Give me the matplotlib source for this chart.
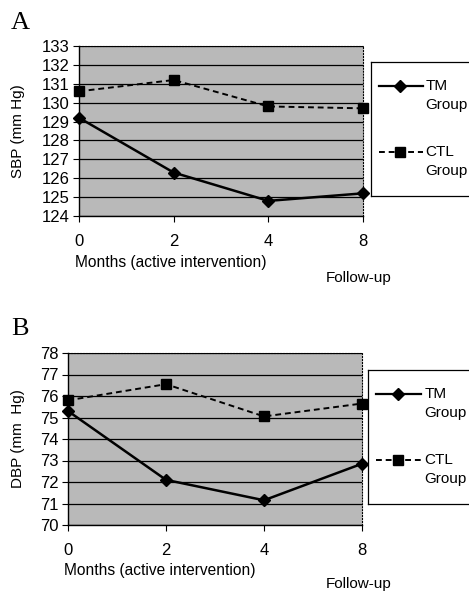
import matplotlib.pyplot as plt

plt.rcParams['font.family'] = ['Liberation Sans', 'DejaVu Sans']

months = ['0', '2', '4', '8']
sbp_tm = [129.2, 126.3, 124.8, 125.2]
sbp_ctl = [130.6, 131.2, 129.8, 129.7]
dbp_tm = [75.3, 72.1, 71.15, 72.85]
dbp_ctl = [75.8, 76.55, 75.05, 75.65]

W, H = 469, 592
fig = plt.figure(figsize=(W / 100, H / 100), dpi=100)
bg = '#b9b9b9'


def fx(px):
    return px / W


def fy(py):
    return 1 - py / H


def panel(letter, box, ylo, yhi, tm, ctl, ylabel, leg, ly, months_y, follow_y):
    l, t, r, b = box
    ax = fig.add_axes([fx(l), fy(b), fx(r) - fx(l), fy(t) - fy(b)])
    ax.set_facecolor(bg)
    x = range(len(months))
    for v in range(ylo, yhi + 1):
        ax.axhline(v, color='black', lw=0.9, zorder=1)
    ax.plot(x, ctl, ls=(0, (3, 2)), color='black', lw=1.4, marker='s', ms=6.5, zorder=3, clip_on=False)
    ax.plot(x, tm, ls='-', color='black', lw=1.8, marker='D', ms=6, zorder=3, clip_on=False)
    ax.set_xlim(0, 3)
    ax.set_ylim(ylo, yhi)
    ax.set_yticks(range(ylo, yhi + 1))
    ax.set_xticks(list(x))
    ax.set_xticklabels(months)
    ax.tick_params(axis='both', labelsize=12, length=4, width=0.8, color='black')
    ax.tick_params(axis='x', pad=9)
    ax.tick_params(axis='y', pad=3)
    for s in ['top', 'right']:
        ax.spines[s].set_linestyle(':')
        ax.spines[s].set_linewidth(0.8)
    ax.spines['left'].set_linewidth(1.0)
    ax.spines['bottom'].set_linewidth(1.0)

    fig.text(fx(18), fy((t + b) / 2), ylabel, fontsize=11, rotation=90, va='center', ha='center')
    fig.text(fx(11), fy(ly), letter, family='Liberation Serif', fontsize=19, va='center', ha='left')
    fig.text(fx(l - 4), fy(months_y), 'Months (active intervention)', fontsize=11.2, va='center', ha='left')
    fig.text(fx(326), fy(follow_y), 'Follow-up', fontsize=11, va='center', ha='left')

    # legend box
    gl, gt, gb = leg
    lax = fig.add_axes([fx(gl), fy(gb), fx(W + 5) - fx(gl), fy(gt) - fy(gb)])
    lax.set_xlim(0, 1)
    lax.set_ylim(0, 1)
    lax.set_xticks([])
    lax.set_yticks([])
    for s in lax.spines.values():
        s.set_linewidth(0.9)
    lax.plot([0.08, 0.5], [0.82, 0.82], color='black', lw=1.6)
    lax.plot([0.28], [0.82], marker='D', ms=6, color='black')
    lax.plot([0.08, 0.5], [0.33, 0.33], color='black', lw=1.4, ls=(0, (3, 2)))
    lax.plot([0.28], [0.33], marker='s', ms=6.5, color='black')
    lax.text(0.53, 0.82, 'TM', fontsize=11, va='center', ha='left')
    lax.text(0.53, 0.68, 'Group', fontsize=11, va='center', ha='left')
    lax.text(0.53, 0.33, 'CTL', fontsize=11, va='center', ha='left')
    lax.text(0.53, 0.19, 'Group', fontsize=11, va='center', ha='left')
    return ax


panel('A', (79, 46, 363, 216), 124, 133, sbp_tm, sbp_ctl, 'SBP (mm Hg)',
      (371, 62, 196), 23, 262, 278)
panel('B', (68, 353, 362, 525), 70, 78, dbp_tm, dbp_ctl, 'DBP (mm  Hg)',
      (368, 370, 504), 329, 571, 584)

fig.savefig('out.png', dpi=100)
